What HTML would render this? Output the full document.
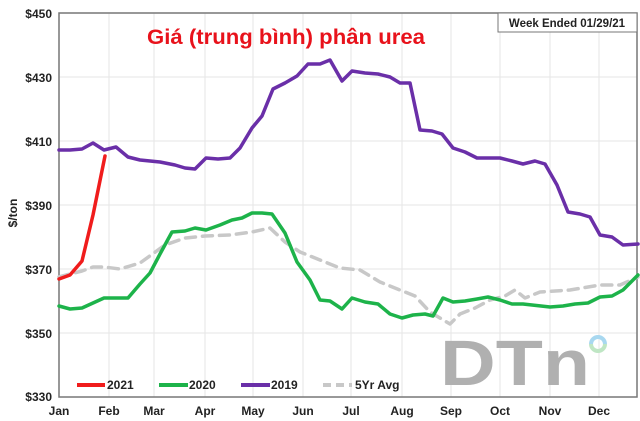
<!DOCTYPE html>
<html><head><meta charset="utf-8"><style>
html,body{margin:0;padding:0;background:#fff;}
svg{display:block;font-family:"Liberation Sans",Arial,sans-serif;}
</style></head><body>
<svg width="640" height="421" viewBox="0 0 640 421" xmlns="http://www.w3.org/2000/svg">
<rect width="640" height="421" fill="#fff"/>
<g stroke="#e6e6e6" stroke-width="1">
<line x1="59" y1="77" x2="637" y2="77"/><line x1="59" y1="141" x2="637" y2="141"/>
<line x1="59" y1="205" x2="637" y2="205"/><line x1="59" y1="269" x2="637" y2="269"/>
<line x1="59" y1="333" x2="637" y2="333"/>
<line x1="109" y1="13" x2="109" y2="397"/><line x1="154" y1="13" x2="154" y2="397"/>
<line x1="205" y1="13" x2="205" y2="397"/><line x1="253" y1="13" x2="253" y2="397"/>
<line x1="303" y1="13" x2="303" y2="397"/><line x1="351" y1="13" x2="351" y2="397"/>
<line x1="402" y1="13" x2="402" y2="397"/><line x1="451" y1="13" x2="451" y2="397"/>
<line x1="500" y1="13" x2="500" y2="397"/><line x1="550" y1="13" x2="550" y2="397"/>
<line x1="599" y1="13" x2="599" y2="397"/>
</g>
<rect x="59" y="13" width="578" height="384" fill="none" stroke="#777" stroke-width="1.5"/>
<g font-size="12" font-weight="bold" fill="#222" text-anchor="end">
<text x="52" y="18">$450</text><text x="52" y="82">$430</text><text x="52" y="146">$410</text>
<text x="52" y="210">$390</text><text x="52" y="274">$370</text><text x="52" y="338">$350</text>
<text x="52" y="401">$330</text>
</g>
<text transform="translate(17,213) rotate(-90)" font-size="12" font-weight="bold" fill="#222" text-anchor="middle">$/ton</text>
<g font-size="12" font-weight="bold" fill="#222" text-anchor="middle">
<text x="59" y="415">Jan</text><text x="109" y="415">Feb</text><text x="154" y="415">Mar</text>
<text x="205" y="415">Apr</text><text x="253" y="415">May</text><text x="303" y="415">Jun</text>
<text x="351" y="415">Jul</text><text x="402" y="415">Aug</text><text x="451" y="415">Sep</text>
<text x="500" y="415">Oct</text><text x="550" y="415">Nov</text><text x="599" y="415">Dec</text>
</g>
<text x="440" y="385" font-size="64" font-weight="bold" fill="#b0b0b0" textLength="150" lengthAdjust="spacingAndGlyphs">DTn</text>
<path d="M591,344 A7,7 0 0 1 605,344" fill="none" stroke="#a8d8f0" stroke-width="4"/>
<path d="M605,344 A7,7 0 0 1 591,344" fill="none" stroke="#bfe6c4" stroke-width="4"/>
<g fill="none" stroke-linejoin="round" stroke-linecap="round">
<polyline stroke="#c8c8c8" stroke-width="3.5" stroke-dasharray="10,7" points="59,277 70,274 82,271 93,267 104,267 120,269 140,263 165,245 185,238 205,236 230,235 252,232 270,228 285,242 300,252 320,260 340,268 360,270 380,282 400,290 415,296 430,312 450,324 460,314 475,308 490,300 505,296 515,290 525,298 540,292 570,290 600,285 620,285 638,277"/>
<polyline stroke="#6a2fa8" stroke-width="3.5" points="59,150 70,150 82,149 93,143 104,150 116,147 128,157 140,160 160,162 175,165 185,168 195,169 206,158 218,159 230,158 240,148 252,128 262,116 273,89 285,83 297,76 308,64 320,64 330,60 342,81 352,71 365,73 378,74 390,77 400,83 410,83 420,130 432,131 442,134 453,148 465,152 477,158 500,158 512,161 523,164 535,161 545,164 557,185 568,212 580,214 590,217 600,235 612,237 623,245 638,244"/>
<polyline stroke="#1db34a" stroke-width="3.5" points="59,306 70,309 82,308 93,303 104,298 116,298 128,298 140,284 150,273 160,254 172,232 185,231 195,228 206,230 220,225 232,220 242,218 252,213 262,213 272,214 285,233 297,262 310,280 320,300 330,301 342,309 352,298 365,302 378,304 390,314 402,318 413,315 425,314 433,316 443,298 453,302 465,301 477,299 488,297 500,300 512,304 523,304 550,307 563,306 575,304 588,303 600,297 612,296 623,290 638,275"/>
<polyline stroke="#f01c1c" stroke-width="3.5" points="59,279 70,275 82,261 93,215 105,156"/>
</g>
<g font-size="12" font-weight="bold" fill="#222">
<line x1="77" y1="385" x2="105" y2="385" stroke="#f01c1c" stroke-width="4"/><text x="107" y="389">2021</text>
<line x1="159" y1="385" x2="188" y2="385" stroke="#1db34a" stroke-width="4"/><text x="189" y="389">2020</text>
<line x1="241" y1="385" x2="270" y2="385" stroke="#6a2fa8" stroke-width="4"/><text x="271" y="389">2019</text>
<line x1="323" y1="385" x2="352" y2="385" stroke="#c8c8c8" stroke-width="4" stroke-dasharray="8,5"/><text x="355" y="389">5Yr Avg</text>
</g>
<rect x="498" y="13" width="139" height="19" fill="#fff" stroke="#777" stroke-width="1"/>
<text x="567" y="27" font-size="11.5" font-weight="bold" fill="#222" text-anchor="middle">Week Ended 01/29/21</text>
<text x="147" y="44" font-size="21" font-weight="bold" fill="#e8121b" textLength="278" lengthAdjust="spacingAndGlyphs">Giá (trung bình) phân urea</text>
</svg>
</body></html>
